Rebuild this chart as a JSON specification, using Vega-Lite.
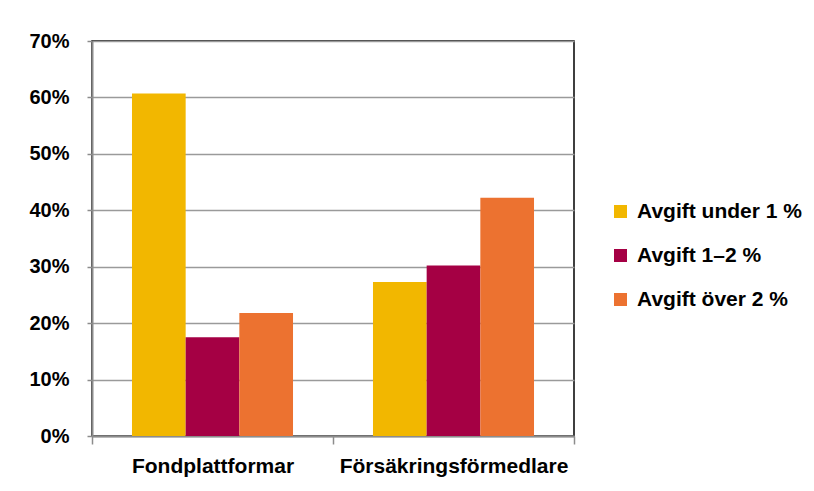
{
  "$schema": "https://vega.github.io/schema/vega-lite/v6.json",
  "autosize": {"type": "none"},
  "width": 482,
  "height": 395,
  "padding": {"left": 92, "top": 41, "right": 240, "bottom": 55},
  "background": "white",
  "config": {
    "font": "Liberation Sans",
    "view": {"stroke": "#000000", "strokeWidth": 1.5},
    "axis": {"labelFont": "Liberation Sans", "labelFontWeight": "bold", "labelColor": "#000000", "labelLimit": 0}
  },
  "data": {
    "values": [
      {"grupp": "Fondplattformar", "avgift": "Avgift under 1 %", "andel": 0.607},
      {"grupp": "Fondplattformar", "avgift": "Avgift 1–2 %", "andel": 0.175},
      {"grupp": "Fondplattformar", "avgift": "Avgift över 2 %", "andel": 0.218},
      {"grupp": "Försäkringsförmedlare", "avgift": "Avgift under 1 %", "andel": 0.273},
      {"grupp": "Försäkringsförmedlare", "avgift": "Avgift 1–2 %", "andel": 0.302},
      {"grupp": "Försäkringsförmedlare", "avgift": "Avgift över 2 %", "andel": 0.422}
    ]
  },
  "mark": {"type": "bar"},
  "encoding": {
    "x": {
      "field": "grupp",
      "type": "nominal",
      "sort": null,
      "scale": {"paddingInner": 0, "paddingOuter": 0},
      "axis": {
        "title": null,
        "labelAngle": 0,
        "labelFontSize": 21,
        "labelLimit": 0,
        "tickBand": "extent",
        "tickSize": 8,
        "tickColor": "#8c8c8c",
        "tickWidth": 1.5,
        "domainColor": "#8c8c8c",
        "domainWidth": 2,
        "labelPadding": 11
      }
    },
    "xOffset": {
      "field": "avgift",
      "type": "nominal",
      "sort": ["Avgift under 1 %", "Avgift 1–2 %", "Avgift över 2 %"],
      "scale": {"paddingInner": 0, "paddingOuter": 0.745}
    },
    "y": {
      "field": "andel",
      "type": "quantitative",
      "scale": {"domain": [0, 0.7], "nice": false},
      "axis": {
        "title": null,
        "format": ".0%",
        "values": [0, 0.1, 0.2, 0.3, 0.4, 0.5, 0.6, 0.7],
        "labelFontSize": 20,
        "tickSize": 5,
        "tickColor": "#8c8c8c",
        "tickWidth": 1.5,
        "domainColor": "#8c8c8c",
        "domainWidth": 2,
        "gridColor": "#9a9a9a",
        "gridWidth": 1.5,
        "labelPadding": 18
      }
    },
    "color": {
      "field": "avgift",
      "type": "nominal",
      "sort": ["Avgift under 1 %", "Avgift 1–2 %", "Avgift över 2 %"],
      "scale": {
        "domain": ["Avgift under 1 %", "Avgift 1–2 %", "Avgift över 2 %"],
        "range": ["#F2B700", "#A50044", "#EC7230"]
      },
      "legend": {
        "title": null,
        "orient": "none",
        "legendX": 518,
        "legendY": 160,
        "symbolType": "square",
        "symbolSize": 169,
        "symbolStrokeWidth": 0,
        "labelFontSize": 21,
        "labelLimit": 0,
        "labelFont": "Liberation Sans",
        "labelFontWeight": "bold",
        "labelColor": "#000000",
        "labelOffset": 6,
        "rowPadding": 22
      }
    }
  }
}
